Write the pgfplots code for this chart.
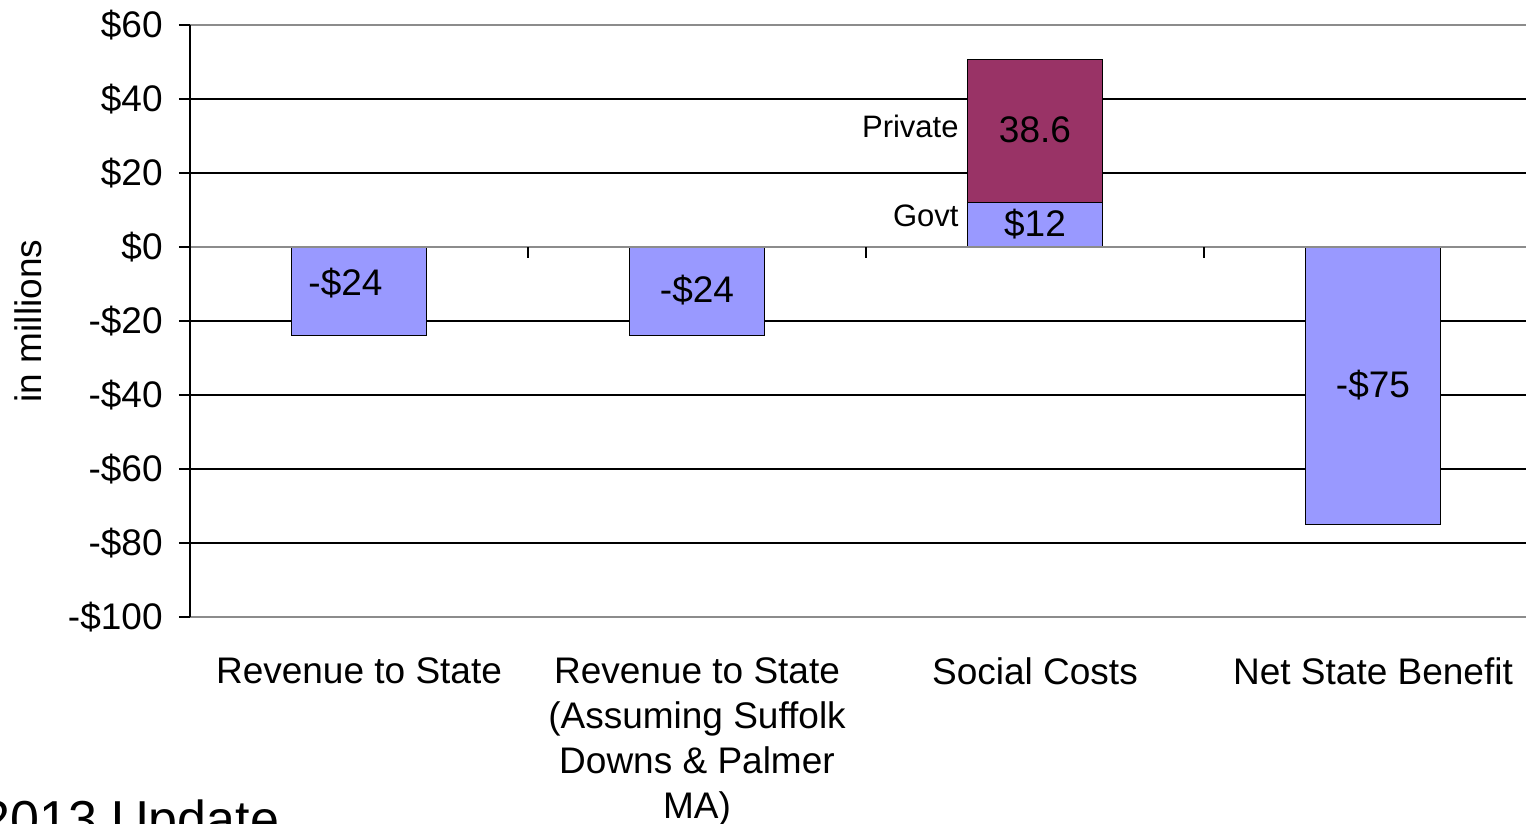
\documentclass[border=0pt]{standalone}
\usepackage{pgfplots}
\pgfplotsset{compat=1.18}
\usepackage{fontspec}
\setmainfont{Liberation Sans}
\definecolor{barblue}{HTML}{9999FF}
\definecolor{barplum}{HTML}{993366}
\definecolor{axgray}{HTML}{8C8C8C}
\begin{document}
\begin{tikzpicture}
\path[use as bounding box] (0,0) rectangle (763pt,-412pt);
\clip (0,0) rectangle (763pt,-412pt);
\begin{axis}[
  at={(95pt,-308.5pt)}, anchor=south west,
  scale only axis, width=676pt, height=296pt,
  xmin=-0.5, xmax=3.5, ymin=-100, ymax=60,
  axis line style={draw=none},
  ytick={-100,-80,...,60},
  yticklabels={-\$100,-\$80,-\$60,-\$40,-\$20,\$0,\$20,\$40,\$60},
  ytick pos=left, tick align=outside, major tick length=5.5pt,
  every tick/.style={black, line width=0.6pt},
  ymajorgrids, major grid style={black, line width=0.6pt},
  xtick={0,1,2,3},
  xticklabels={Revenue to State,{Revenue to State\\(Assuming Suffolk\\Downs \& Palmer\\MA)},Social Costs,Net State Benefit},
  x tick style={draw=none},
  yticklabel style={font=\fontsize{18.5}{22}\selectfont, anchor=east, inner sep=0pt, xshift=-8pt},
  xticklabel style={font=\fontsize{18.5}{22.5}\selectfont, align=center, anchor=north, inner sep=0pt, yshift=-14.5pt},
  ylabel={in millions},
  ylabel style={font=\fontsize{18.5}{22}\selectfont, at={(axis description cs:-0.1198,0.5)}, anchor=center},
  ybar stacked, bar width=0.4,
  clip=false,
]
\addplot[fill=barblue, draw=black, line width=0.6pt] coordinates {(0,-24) (1,-24) (2,12) (3,-75)};
\addplot[fill=barplum, draw=black, line width=0.6pt] coordinates {(0,0) (1,0) (2,38.6) (3,0)};
\coordinate (tA) at (axis cs:0.5,0);
\coordinate (tB) at (axis cs:1.5,0);
\coordinate (tC) at (axis cs:2.5,0);
\coordinate (z0) at (axis cs:-0.5,0);
\coordinate (z1) at (axis cs:3.5,0);
\coordinate (top0) at (axis cs:-0.5,60);
\coordinate (top1) at (axis cs:3.5,60);
\coordinate (bot0) at (axis cs:-0.5,-100);
\coordinate (bot1) at (axis cs:3.5,-100);
\coordinate (l1) at (axis cs:-0.04,-9.7);
\coordinate (l2) at (axis cs:1,-11.6);
\coordinate (l3) at (axis cs:2,6.2);
\coordinate (l4) at (axis cs:2,31.6);
\coordinate (l5) at (axis cs:3,-37.3);
\coordinate (lp) at (axis cs:1.775,32.7);
\coordinate (lg) at (axis cs:1.775,8.4);
\end{axis}
% plot area borders and zero line
\draw[axgray, line width=0.6pt] (top0) -- (top1);
\draw[axgray, line width=0.6pt] (bot0) -- (bot1);
\draw[axgray, line width=0.6pt] (z0) -- (z1);
\draw[black, line width=0.6pt] (bot0) -- (top0);
\draw[black, line width=0.6pt] (tA) -- ++(0,-5.5pt);
\draw[black, line width=0.6pt] (tB) -- ++(0,-5.5pt);
\draw[black, line width=0.6pt] (tC) -- ++(0,-5.5pt);
% value labels
\node[font=\fontsize{18.5}{22}\selectfont] at (l1) {-\$24};
\node[font=\fontsize{18.5}{22}\selectfont] at (l2) {-\$24};
\node[font=\fontsize{18.5}{22}\selectfont] at (l3) {\$12};
\node[font=\fontsize{18.5}{22}\selectfont] at (l4) {38.6};
\node[font=\fontsize{18.5}{22}\selectfont] at (l5) {-\$75};
\node[font=\fontsize{15.5}{18}\selectfont, anchor=east, inner sep=0pt] at (lp) {Private};
\node[font=\fontsize{15.5}{18}\selectfont, anchor=east, inner sep=0pt] at (lg) {Govt};
\node[font=\fontsize{26}{30}\selectfont, anchor=base west, inner sep=0pt] at (-9.5pt,-418.5pt) {2013 Update};
\end{tikzpicture}
\end{document}
